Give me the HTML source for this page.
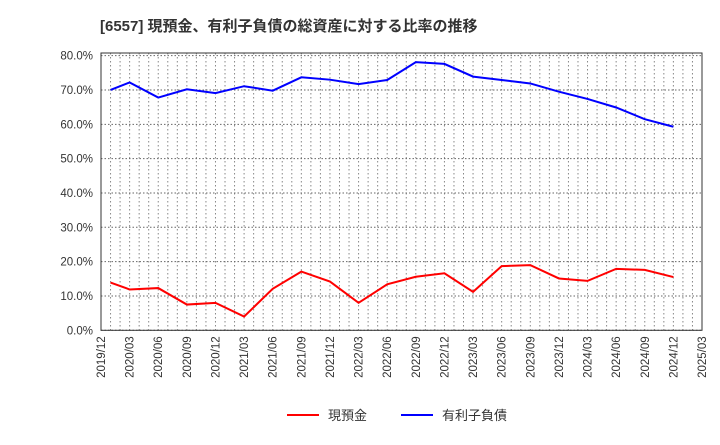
<!DOCTYPE html>
<html><head><meta charset="utf-8"><style>
body{margin:0;background:#fff;width:720px;height:440px;overflow:hidden;font-family:"Liberation Sans","Noto Sans CJK JP",sans-serif}
</style></head><body>
<svg id="c" width="720" height="440" xmlns="http://www.w3.org/2000/svg">
<text x="100" y="31" font-size="15" font-weight="bold" fill="#333" font-family="Liberation Sans,Noto Sans CJK JP,sans-serif">[6557]  現預金、有利子負債の総資産に対する比率の推移</text>
<g id="grid"></g><g id="axes"></g><g id="series"></g>
<g>
<line x1="287" y1="415" x2="319" y2="415" stroke="#f00" stroke-width="2"/>
<text x="328" y="420" font-size="13" fill="#333">現預金</text>
<line x1="401" y1="415" x2="433" y2="415" stroke="#00f" stroke-width="2"/>
<text x="442" y="420" font-size="13" fill="#333">有利子負債</text>
</g>
</svg>
<script>
const monthIdx=[1,3,6,9,12,15,18,21,24,27,30,33,36,39,42,45,48,51,54,57,60];
const cashPct=[13.9,11.9,12.3,7.5,8.0,4.0,12.1,17.1,14.2,8.0,13.4,15.6,16.6,11.2,18.7,19.0,15.1,14.4,17.9,17.6,15.5];
const debtPct=[70.0,72.2,67.8,70.2,69.1,71.1,69.8,73.7,73.0,71.7,72.9,78.1,77.6,73.9,72.9,71.9,69.5,67.4,64.9,61.5,59.3];
const xTicks=["2019/12","2020/03","2020/06","2020/09","2020/12","2021/03","2021/06","2021/09","2021/12","2022/03","2022/06","2022/09","2022/12","2023/03","2023/06","2023/09","2023/12","2024/03","2024/06","2024/09","2024/12","2025/03"];
const yTicks=[0,10,20,30,40,50,60,70,80];
const NS="http://www.w3.org/2000/svg";
const L=101,R=702,T=53,B=330.3;
const X=m=>L+(R-L)*m/63;
const Y=v=>B-v*3.433;
function mk(tag,attrs,parent){const e=document.createElementNS(NS,tag);for(const k in attrs)e.setAttribute(k,attrs[k]);parent.appendChild(e);return e;}
const grid=document.getElementById('grid'),axes=document.getElementById('axes'),ser=document.getElementById('series');
for(let m=1;m<63;m++){const l=mk('line',{x1:X(m),x2:X(m),y1:T,y2:B,stroke:'#888','stroke-dasharray':'1.5,2.5','stroke-width':1},grid);

}
yTicks.forEach(v=>{const l=mk('line',{x1:L,x2:R,y1:Y(v),y2:Y(v),stroke:'#666','stroke-dasharray':'1.5,2','stroke-width':1},grid);


const t=mk('text',{x:L-8,y:Y(v)+4,'font-size':11.5,'text-anchor':'end',fill:'#333'},axes);t.textContent=v.toFixed(1)+'%';

});
xTicks.forEach((s,i)=>{const x=X(i*3);const t=mk('text',{x:x+4,y:B+6,'font-size':11.5,'text-anchor':'end',fill:'#333',transform:`rotate(-90 ${x+4} ${B+6})`},axes);t.textContent=s;

});
const fr=mk('rect',{x:L,y:T,width:R-L,height:B-T,fill:'none',stroke:'#333','stroke-width':1},axes);


function line(vals,col,name){const p=mk('polyline',{points:vals.map((v,i)=>X(monthIdx[i])+','+Y(v)).join(' '),fill:'none',stroke:col,'stroke-width':2},ser);

}
line(cashPct,'#f00','cash-line');
line(debtPct,'#00f','debt-line');
</script>
</body></html>
